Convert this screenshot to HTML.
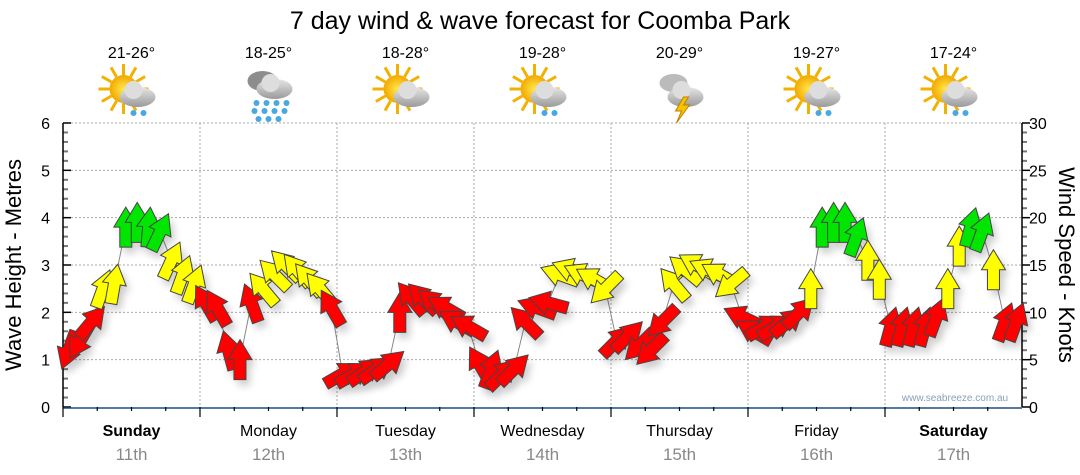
<!DOCTYPE html>
<html><head><meta charset="utf-8"><style>
body{margin:0;background:#fff;width:1080px;height:475px;overflow:hidden;font-family:"Liberation Sans",sans-serif}
svg{display:block}
</style></head><body>
<svg id="c" width="1080" height="475">
<defs>
<filter id="sh" x="-50%" y="-50%" width="200%" height="200%"><feGaussianBlur stdDeviation="4"/></filter>
<radialGradient id="sun" cx="0.5" cy="0.5" r="0.5"><stop offset="0" stop-color="#ffe84a"/><stop offset="1" stop-color="#f2a800"/></radialGradient>
<linearGradient id="cl" x1="0" y1="0" x2="0" y2="1"><stop offset="0" stop-color="#e6e6e6"/><stop offset="1" stop-color="#9a9a9a"/></linearGradient>
</defs>
<text x="540" y="29" text-anchor="middle" font-size="25" fill="#000">7 day wind &amp; wave forecast for Coomba Park</text>
<g id="grid"></g>
<g id="axes"></g>
<g id="icons"></g>
<polyline id="wline" fill="none" stroke="#888" stroke-width="1"/>
<g id="shadows" opacity="0.2"></g>
<g id="arrows"></g>
<text x="955" y="401" text-anchor="middle" font-size="10" fill="#8aa0b8">www.seabreeze.com.au</text>
<text transform="translate(21,265) rotate(-90)" text-anchor="middle" font-size="22">Wave Height - Metres</text>
<text transform="translate(1059,265) rotate(90)" text-anchor="middle" font-size="22">Wind Speed - Knots</text>
</svg>
<script>
const days=["Sunday","Monday","Tuesday","Wednesday","Thursday","Friday","Saturday"];
const dates=["11th","12th","13th","14th","15th","16th","17th"];
const boldDays=[true,false,false,false,false,false,true];
const temps=["21-26°","18-25°","18-28°","19-28°","20-29°","19-27°","17-24°"];
const icons=["sun-shower","rain","sun-cloud","sun-shower","storm","sun-shower","sun-shower"];
const waveTicks=[0,1,2,3,4,5,6];
const windTicks=[0,5,10,15,20,25,30];
const windSpeed=[
6,7,9,12.5,13,19,19.5,19,18.5,15.5,14,13,
11,10.5,6,5,11,12.5,14,15,14.5,13.5,12.5,10.5,
3.5,3.5,3.8,4,4.5,10,11.5,11.5,11,10.5,9,8.5,
4.5,4,3.5,4,9,10.5,11,14,14.5,14,13.5,12.5,
7,7.5,6.5,6,9,13,14.5,15,14.5,14,13,9.5,
8,8.5,8.5,9,10,12.5,19,19.5,19.5,18,15.5,13.5,
8.5,8.5,8.5,8.5,9.5,12.5,17,19,18.5,14.5,9,9];
const windDir=[
200,210,40,20,10,0,0,5,25,25,20,20,
330,330,345,0,340,320,315,315,320,320,320,330,
60,60,55,55,50,0,320,315,310,300,300,300,
330,20,45,45,315,290,285,290,290,295,300,225,
45,45,225,225,225,320,310,300,295,300,230,295,
300,60,60,50,45,0,0,0,0,20,0,0,
15,15,15,15,20,0,0,15,20,0,20,20];
const X0=63,X1=1022,Y0=407,Y1=123;
const dayW=(X1-X0)/7;
const xT=i=>X0+(i+0.5)*(X1-X0)/windSpeed.length;
const yW=k=>Y0-k/30*(Y0-Y1);
const yM=m=>Y0-m/6*(Y0-Y1);
const NS="http://www.w3.org/2000/svg";
function mk(t,a,p){const e=document.createElementNS(NS,t);for(const k in a)e.setAttribute(k,a[k]);(p||document.getElementById('c')).appendChild(e);return e;}
const grid=document.getElementById('grid'),axes=document.getElementById('axes');
waveTicks.forEach(m=>{
  if(m>0){const g=mk('line',{x1:X0,x2:X1,y1:yM(m),y2:yM(m),stroke:'#aaa','stroke-dasharray':'2,2'},grid);
  
  }
  const t=mk('text',{x:50,y:yM(m)+6,'text-anchor':'end','font-size':16,fill:'#000'},axes);t.textContent=m;
  
  
});
windTicks.forEach(k=>{
  const t=mk('text',{x:1029,y:yW(k)+6,'font-size':16,fill:'#000'},axes);t.textContent=k;
  
  
});
for(let i=0;i<=30;i++){const y=Y0-i*(Y0-Y1)/30;
  mk('line',{x1:X0,x2:X0+(i%5?5:8),y1:y,y2:y,stroke:i%5?'#777':'#000','stroke-width':i%5?2:1.5},axes);
  mk('line',{x1:X1,x2:X1+(i%5?5:8),y1:y,y2:y,stroke:i%5?'#777':'#000','stroke-width':i%5?2:1.5},axes);}
mk('line',{x1:X0,x2:X0,y1:Y1,y2:Y0,stroke:'#000','stroke-width':1.5},axes);
mk('line',{x1:X1,x2:X1,y1:Y1,y2:Y0,stroke:'#000','stroke-width':1.5},axes);
mk('line',{x1:X0,x2:X1,y1:Y0+1,y2:Y0+1,stroke:'#1f4f7a','stroke-width':1.5},axes);
for(let d=0;d<7;d++){
  const xs=X0+d*dayW;
  if(d>0){const g=mk('line',{x1:xs,x2:xs,y1:Y1,y2:Y0,stroke:'#aaa','stroke-dasharray':'2,2'},grid);
  
  }
  for(let q=0;q<4;q++){const x=xs+q*dayW/4;mk('line',{x1:x,x2:x,y1:Y0,y2:Y0+(q?4:10),stroke:'#000','stroke-width':1.2},axes);}
  const cx=xs+dayW/2;
  const dl=mk('text',{x:cx,y:436,'text-anchor':'middle','font-size':16,'font-weight':boldDays[d]?'bold':'normal'},axes);dl.textContent=days[d];
  
  
  const dt=mk('text',{x:cx,y:460,'text-anchor':'middle','font-size':17,fill:'#888'},axes);dt.textContent=dates[d];
  
  
  const tt=mk('text',{x:cx,y:58,'text-anchor':'middle','font-size':16},axes);tt.textContent=temps[d];
  
  
  const g=mk('g',{transform:`translate(${cx},95)`},document.getElementById('icons'));
  
  
  const type=icons[d];
  if(type!=='rain'&&type!=='storm'){
    for(let r=0;r<12;r++){const a=r*30*Math.PI/180;mk('line',{x1:-8+Math.cos(a)*14,y1:-6+Math.sin(a)*14,x2:-8+Math.cos(a)*25,y2:-6+Math.sin(a)*25,stroke:'#f2b000','stroke-width':3},g);}
    mk('circle',{cx:-8,cy:-6,r:14,fill:'url(#sun)'},g);
  }
  if(type==='rain'){mk('ellipse',{cx:-6,cy:-14,rx:15,ry:10,fill:'#8d8d8d'},g);}
  if(type==='storm'){mk('ellipse',{cx:-6,cy:-12,rx:14,ry:9,fill:'#bbb'},g);}
  mk('ellipse',{cx:6,cy:(type==='rain'?-6:2),rx:18,ry:10,fill:'url(#cl)'},g);
  mk('circle',{cx:2,cy:(type==='rain'?-12:-5),r:9,fill:'#ddd'},g);
  if(type==='storm'){mk('polygon',{points:'4,2 -4,16 2,16 -3,28 10,10 4,10 9,2',fill:'#f5c400',stroke:'#c08000'},g);}
  if(type==='rain'){[[-12,8],[-2,8],[8,8],[18,8],[-14,16],[-4,16],[6,16],[16,16],[-10,24],[0,24],[10,24]].forEach(p=>mk('circle',{cx:p[0],cy:p[1],r:3,fill:'#4aa8e0'},g));}
  if(type==='sun-shower'){[[2,18],[12,18]].forEach(p=>mk('circle',{cx:p[0],cy:p[1],r:3,fill:'#4aa8e0'},g));}
}
const pts=windSpeed.map((k,i)=>xT(i)+','+yW(k)).join(' ');
document.getElementById('wline').setAttribute('points',pts);
const AR='0,-20 12,0 6,0 6,20 -6,20 -6,0 -12,0';
const col=k=>k<12?'#ff0000':(k<17.5?'#ffff00':'#00e600');
windSpeed.forEach((k,i)=>{
  const s=mk('polygon',{points:AR,fill:'#000',filter:'url(#sh)',transform:`translate(${xT(i)+4},${yW(k)+6}) rotate(${windDir[i]})`},document.getElementById('shadows'));
  
  
  const a=mk('polygon',{points:AR,fill:col(k),stroke:'#444','stroke-width':1,transform:`translate(${xT(i)},${yW(k)}) rotate(${windDir[i]})`},document.getElementById('arrows'));
  
  
});
</script>
</body></html>
